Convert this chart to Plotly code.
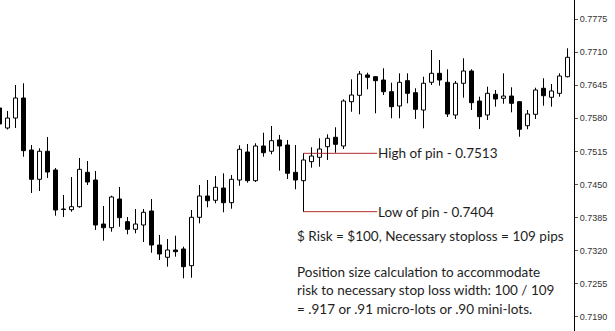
import plotly.graph_objects as go

# Candle index (first one is partially cut at the left edge)
idx = list(range(-1, 71))

opens = [0.76003, 0.75610, 0.75806, 0.76199, 0.75178, 0.74603, 0.75153, 0.74786, 0.74010, 0.74006,
         0.74065, 0.74740, 0.74589, 0.73725, 0.73653, 0.74216, 0.73771, 0.73621, 0.73706, 0.73981,
         0.73313, 0.73072, 0.73215, 0.73235, 0.72907, 0.73857, 0.74275, 0.74191, 0.74432, 0.74144,
         0.74589, 0.75139, 0.74576, 0.75257, 0.75153, 0.75375, 0.75276, 0.74740, 0.74576, 0.74949,
         0.75035, 0.75243, 0.75428, 0.75257, 0.76126, 0.76252, 0.76651, 0.76617, 0.76552, 0.76323,
         0.76042, 0.76539, 0.76303, 0.75963, 0.76507, 0.76684, 0.76507, 0.75865, 0.76488, 0.76729,
         0.76140, 0.75865, 0.76272, 0.76193, 0.76238, 0.76126, 0.75655, 0.75879, 0.76390, 0.76213,
         0.76291, 0.76617]
highs = [0.76042, 0.75944, 0.76454, 0.76488, 0.75276, 0.75212, 0.75433, 0.74825, 0.74295, 0.74648,
         0.75021, 0.74962, 0.74766, 0.74079, 0.74281, 0.74452, 0.73863, 0.74020, 0.74020, 0.74216,
         0.73510, 0.73431, 0.73496, 0.73280, 0.74000, 0.74491, 0.74589, 0.74668, 0.74721, 0.74687,
         0.75271, 0.75296, 0.75310, 0.75518, 0.75649, 0.75473, 0.75375, 0.75276, 0.75113, 0.75231,
         0.75408, 0.75486, 0.75624, 0.76174, 0.76566, 0.76729, 0.76696, 0.76631, 0.76782, 0.76499,
         0.76684, 0.76684, 0.76390, 0.76617, 0.77141, 0.76945, 0.76763, 0.76533, 0.76979, 0.76763,
         0.76225, 0.76421, 0.76356, 0.76684, 0.76409, 0.76140, 0.75963, 0.76401, 0.76586, 0.76474,
         0.76684, 0.77175]
lows = [0.75649, 0.75581, 0.75610, 0.75047, 0.74334, 0.74373, 0.74629, 0.73888, 0.73863, 0.73967,
        0.74045, 0.74491, 0.73608, 0.73398, 0.73574, 0.73672, 0.73523, 0.73543, 0.73372, 0.73162,
        0.73019, 0.72887, 0.73084, 0.72659, 0.72671, 0.73739, 0.74053, 0.74132, 0.73955, 0.74026,
        0.74477, 0.74536, 0.74550, 0.75047, 0.75094, 0.74772, 0.74609, 0.74407, 0.73967, 0.74831,
        0.74850, 0.74982, 0.75125, 0.75198, 0.75930, 0.75879, 0.76370, 0.75899, 0.76258, 0.75801,
        0.75801, 0.76095, 0.75787, 0.75604, 0.76454, 0.76441, 0.75826, 0.75787, 0.76205, 0.75963,
        0.75590, 0.75767, 0.76028, 0.76087, 0.75918, 0.75439, 0.75585, 0.75787, 0.76048, 0.76028,
        0.76225, 0.76605]
closes = [0.75689, 0.75806, 0.76199, 0.75165, 0.74603, 0.75153, 0.74746, 0.74000, 0.74020, 0.74065,
          0.74799, 0.74550, 0.73706, 0.73653, 0.74256, 0.73849, 0.73621, 0.73725, 0.73955, 0.73313,
          0.73137, 0.73215, 0.73182, 0.72887, 0.73857, 0.74275, 0.74183, 0.74446, 0.74144, 0.74603,
          0.75192, 0.74576, 0.75257, 0.75125, 0.75361, 0.75257, 0.74721, 0.74589, 0.74982, 0.75060,
          0.75198, 0.75408, 0.75290, 0.76140, 0.76258, 0.76670, 0.76605, 0.76539, 0.76323, 0.76028,
          0.76507, 0.76291, 0.75977, 0.76488, 0.76684, 0.76552, 0.75885, 0.76488, 0.76729, 0.76107,
          0.75832, 0.76291, 0.76179, 0.76238, 0.76095, 0.75585, 0.75885, 0.76356, 0.76244, 0.76337,
          0.76631, 0.76998]

pin_index = 37
pin_label_end = 46.2
y_ticks = [0.7190, 0.7255, 0.7320, 0.7385, 0.7450, 0.7515, 0.7580, 0.7645, 0.7710, 0.7775]

text_high = "High of pin - 0.7513"
text_low = "Low of pin - 0.7404"
text_risk = "$ Risk = $100, Necessary stoploss = 109 pips"
text_lines = ["Position size calculation to accommodate",
              "risk to necessary stop loss width: 100 / 109",
              "= .917 or .91 micro-lots or .90 mini-lots."]

fig = go.Figure()

# pin high/low lines (drawn first, wick goes over the vertical part)
ph = highs[idx.index(pin_index)]
pl = lows[idx.index(pin_index)]
red = "#b32a2a"
fig.add_trace(go.Scatter(x=[pin_index, pin_label_end], y=[ph, ph], mode="lines",
                         line=dict(color=red, width=1), showlegend=False, hoverinfo="skip"))
fig.add_trace(go.Scatter(x=[pin_index, pin_label_end], y=[pl, pl], mode="lines",
                         line=dict(color=red, width=1), showlegend=False, hoverinfo="skip"))

# wicks: split above and below the body
wx, wy = [], []
for x, o, h, l, c in zip(idx, opens, highs, lows, closes):
    top, bot = max(o, c), min(o, c)
    wx += [x, x, None, x, x, None]
    wy += [h, top, None, bot, l, None]
fig.add_trace(go.Scatter(x=wx, y=wy, mode="lines", line=dict(color="black", width=1),
                         hoverinfo="skip", showlegend=False))

# bodies
up = [c >= o for o, c in zip(opens, closes)]
bx_up = [x for x, u in zip(idx, up) if u]
bx_dn = [x for x, u in zip(idx, up) if not u]
base_up = [o for o, u in zip(opens, up) if u]
h_up = [c - o for o, c, u in zip(opens, closes, up) if u]
base_dn = [c for c, u in zip(closes, up) if not u]
h_dn = [o - c for o, c, u in zip(opens, closes, up) if not u]

fig.add_trace(go.Bar(x=bx_up, y=h_up, base=base_up, width=0.5,
                     marker=dict(color="white", line=dict(color="black", width=1)),
                     showlegend=False, hoverinfo="skip"))
fig.add_trace(go.Bar(x=bx_dn, y=h_dn, base=base_dn, width=0.5,
                     marker=dict(color="black", line=dict(color="black", width=1)),
                     showlegend=False, hoverinfo="skip"))

tfont = dict(family="Lato", size=13.5, color="#1e1e1e")
fig.add_annotation(x=pin_label_end, y=ph, xref="x", yref="y", text=text_high, showarrow=False,
                   xanchor="left", yanchor="middle", font=tfont, xshift=-1)
fig.add_annotation(x=pin_label_end, y=pl, xref="x", yref="y", text=text_low, showarrow=False,
                   xanchor="left", yanchor="middle", font=tfont, xshift=-1)
W, H = 574, 331
for yy, t in zip([236, 272, 290, 308.5], [text_risk] + text_lines):
    fig.add_annotation(x=295 / W, y=1 - yy / H, xref="paper", yref="paper", text=t,
                       showarrow=False, xanchor="left", yanchor="middle", font=tfont)

fig.update_layout(
    width=615, height=331,
    margin=dict(l=0, r=41, t=0, b=0),
    paper_bgcolor="white", plot_bgcolor="white",
    barmode="overlay",
    showlegend=False,
    xaxis=dict(range=[-7.5 / 8, (574 - 7.5) / 8], visible=False, fixedrange=True),
    yaxis=dict(range=[0.78123 - 0.00019632 * 331, 0.78123], side="right",
               tickvals=y_ticks, ticktext=[f"{v:.4f}" for v in y_ticks],
               showgrid=False, zeroline=False, showline=True, linecolor="black", linewidth=1,
               ticks="outside", ticklen=3, tickcolor="#555",
               tickfont=dict(family="Liberation Sans", size=9, color="#333")),
)

fig.write_html("out.html")
